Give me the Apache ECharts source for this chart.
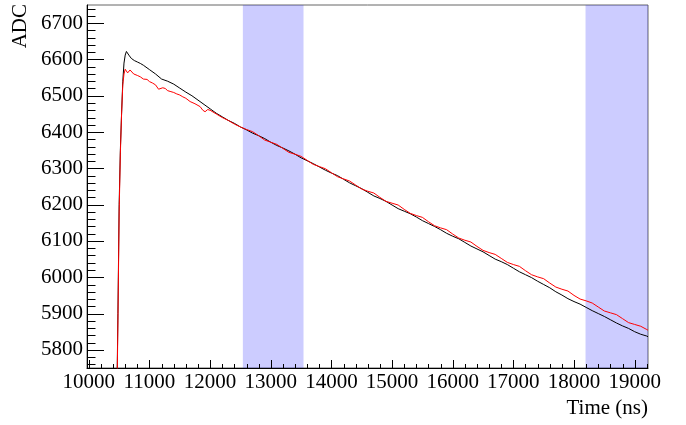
<!DOCTYPE html>
<html><head><meta charset="utf-8">
<script src="https://cdn.jsdelivr.net/npm/echarts@6.0.0/dist/echarts.min.js"></script>
<style>html,body{margin:0;padding:0;background:#fff}#c{width:686px;height:425px}</style>
</head><body><div id="c"></div>
<script>
// ---- data ----
const xMajorTicks = [10000,11000,12000,13000,14000,15000,16000,17000,18000,19000];
const yMajorTicks = [5800,5900,6000,6100,6200,6300,6400,6500,6600,6700];
const xRange = [9970, 19220];
const yRange = [5750, 6750];
const bands = [[12540, 13540], [18190, 19220]];

const blackPts = [
[9970,5600],[10440,5600],[10460,5640],[10480,5900],[10500,6200],[10520,6350],[10540,6450],[10560,6540],
[10580,6590],[10600,6612],[10620,6622],[10640,6618],[10660,6612],[10700,6603],[10750,6597],[10800,6593],
[10850,6589],[10900,6584],[11000,6572],[11100,6560],[11200,6546],[11300,6540],[11400,6532],[11500,6521],
[11600,6510],[11700,6500],[11800,6488],[11900,6476],[12000,6464],[12100,6452],[12200,6442],[12300,6432],
[12400,6424],[12500,6414],[12600,6406],[12700,6397],[12800,6390],[12900,6382],[13000,6372],[13100,6363],
[13200,6356],[13300,6348],[13400,6339],[13500,6329],[13600,6321],[13700,6313],[13800,6304],[13900,6295],
[14000,6287],[14100,6280],[14200,6270],[14300,6260],[14400,6252],[14500,6244],[14600,6234],[14700,6224],
[14800,6217],[14900,6209],[15000,6199],[15100,6189],[15200,6182],[15300,6175],[15400,6166],[15500,6156],
[15600,6148],[15700,6140],[15800,6131],[15900,6121],[16000,6113],[16100,6106],[16200,6096],[16300,6086],
[16400,6078],[16500,6070],[16600,6060],[16700,6050],[16800,6043],[16900,6035],[17000,6025],[17100,6015],
[17200,6007],[17300,5999],[17400,5989],[17500,5980],[17600,5971],[17700,5960],[17800,5951],[17900,5941],
[18000,5933],[18100,5926],[18200,5917],[18300,5908],[18400,5900],[18500,5892],[18600,5883],[18700,5874],
[18800,5866],[18900,5859],[19000,5850],[19100,5843],[19200,5838],[19220,5836]
];

const redPts = [
[9970,5600],[10440,5600],[10460,5620],[10480,5880],[10500,6180],[10520,6340],[10540,6450],[10560,6530],
[10580,6560],[10600,6573],[10620,6568],[10640,6563],[10660,6567],[10680,6571],[10710,6570],[10740,6560],
[10770,6557],[10800,6556],[10850,6552],[10900,6546],[10930,6543],[10960,6545],[11000,6539],[11050,6535],
[11100,6530],[11150,6518],[11180,6516],[11220,6522],[11260,6520],[11300,6514],[11340,6512],[11400,6509],
[11450,6505],[11500,6502],[11550,6497],[11600,6493],[11670,6484],[11750,6478],[11835,6470],[11880,6460],
[11917,6456],[11960,6462],[12000,6460],[12100,6450],[12200,6440],[12300,6432],[12400,6422],[12500,6414],
[12600,6407],[12700,6401],[12800,6390],[12900,6378],[13000,6372],[13100,6366],[13200,6355],[13300,6344],
[13400,6339],[13500,6333],[13600,6322],[13700,6311],[13800,6305],[13900,6299],[14000,6288],[14100,6277],
[14200,6271],[14300,6265],[14400,6254],[14500,6243],[14600,6237],[14700,6232],[14800,6220],[14900,6209],
[15000,6204],[15100,6199],[15200,6187],[15300,6176],[15400,6170],[15500,6165],[15600,6153],[15700,6142],
[15800,6136],[15900,6131],[16000,6119],[16100,6108],[16200,6102],[16300,6097],[16400,6085],[16500,6074],
[16600,6068],[16700,6063],[16800,6052],[16900,6041],[17000,6035],[17100,6030],[17200,6018],[17300,6007],
[17400,6001],[17500,5996],[17600,5984],[17700,5973],[17800,5967],[17900,5962],[18000,5950],[18100,5940],
[18200,5935],[18300,5929],[18400,5918],[18500,5907],[18600,5902],[18700,5897],[18800,5886],[18900,5875],
[19000,5870],[19100,5865],[19200,5856],[19220,5854]
];

// ---- chart ----
const xMinorTicks = [];
for (let v = 10000; v <= xRange[1]; v += 200) xMinorTicks.push(v);
const yMinorTicks = [];
for (let v = 5760; v <= yRange[1]; v += 20) yMinorTicks.push(v);

const FONT = '"Liberation Serif","Times New Roman",serif';
const FS = 21;
const W = 686, H = 425;
const gridPos = {left: 87, right: 38, top: 5, bottom: 57};
const chart = echarts.init(document.getElementById('c'), null, {renderer: 'canvas'});

chart.setOption({
  animation: false,
  backgroundColor: '#fff',
  grid: Object.assign({show: true, borderColor: '#666', borderWidth: 1, backgroundColor: 'transparent'}, gridPos),
  xAxis: {type: 'value', min: xRange[0], max: xRange[1], position: 'bottom',
     axisLine: {show: true, onZero: false, lineStyle: {color: '#000', width: 1}},
     axisTick: {show: false},
     axisLabel: {show: true, customValues: xMajorTicks, margin: 4, color: '#000', fontFamily: FONT, fontSize: FS,
                 formatter: v => String(v)},
     splitLine: {show: false}},
  yAxis: {type: 'value', min: yRange[0], max: yRange[1], position: 'left',
     axisLine: {show: true, onZero: false, lineStyle: {color: '#000', width: 1}},
     axisTick: {show: false},
     axisLabel: {show: true, customValues: yMajorTicks, margin: 4, color: '#000', fontFamily: FONT, fontSize: FS,
                 formatter: v => String(v)},
     splitLine: {show: false}},
  series: [
    {type: 'line', data: blackPts, showSymbol: false, symbol: 'none', clip: true, z: 2,
     lineStyle: {color: '#000', width: 1}},
    {type: 'line', data: redPts, showSymbol: false, symbol: 'none', clip: true, z: 3,
     lineStyle: {color: '#ff0000', width: 1}},
    {type: 'line', data: [], z: 5, silent: true,
     markArea: {silent: true, itemStyle: {color: 'rgba(0,0,255,0.2)'},
       data: bands.map(b => [{xAxis: b[0]}, {xAxis: b[1]}])}}
  ]
});

// ticks drawn through the axis scales (inward, ROOT style)
const bottomY = H - gridPos.bottom;
const leftX = gridPos.left;
const tickEls = [];
function addTick(x1, y1, x2, y2) {
  tickEls.push({type: 'line', z: 1, silent: true,
    shape: {x1: x1, y1: y1, x2: x2, y2: y2},
    style: {stroke: '#000', lineWidth: 1}});
}
xMinorTicks.forEach(v => {
  const px = Math.round(chart.convertToPixel({xAxisIndex: 0}, v)) + 0.5;
  const len = xMajorTicks.indexOf(v) >= 0 ? 8 : 4;
  addTick(px, bottomY, px, bottomY - len);
});
yMinorTicks.forEach(v => {
  const py = Math.round(chart.convertToPixel({yAxisIndex: 0}, v)) + 0.5;
  const len = yMajorTicks.indexOf(v) >= 0 ? 17 : 8.5;
  addTick(leftX, py, leftX + len, py);
});

chart.setOption({
  graphic: tickEls.concat([
    {type: 'text', z: 10, x: 648, y: 408,
     style: {text: 'Time (ns)', fontFamily: FONT, fontSize: FS, fill: '#000', align: 'right', verticalAlign: 'middle'}},
    {type: 'text', z: 10, x: 20, y: 4, rotation: Math.PI / 2,
     style: {text: 'ADC', fontFamily: FONT, fontSize: FS, fill: '#000', align: 'right', verticalAlign: 'middle'}}
  ])
});
</script></body></html>
